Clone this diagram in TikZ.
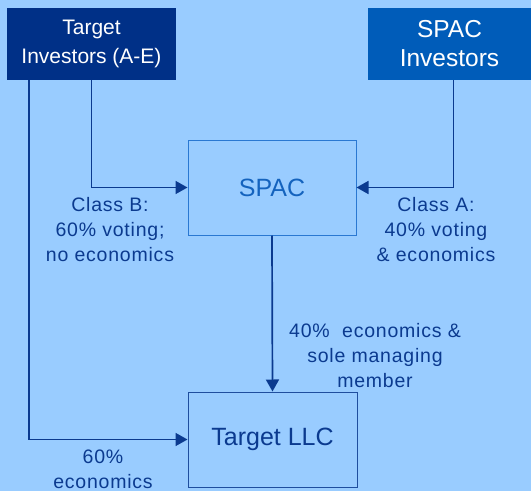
\documentclass[tikz,border=0pt]{standalone}
\usepackage{fontspec}
\setmainfont{Liberation Sans}
\usepackage{tikz}
\usetikzlibrary{arrows.meta,positioning}

\definecolor{bgblue}{HTML}{99CCFF}
\definecolor{navybox}{HTML}{003087}
\definecolor{spacbox}{HTML}{005CB9}
\definecolor{linkblue}{HTML}{0B3A8F}
\definecolor{spacedge}{HTML}{2A78D2}
\definecolor{spactext}{HTML}{1463BE}
\definecolor{llcedge}{HTML}{1F4E9E}

\begin{document}
\begin{tikzpicture}[x=1pt, y=-1pt,
    investor/.style={rectangle, fill=#1, text=white, align=center,
      minimum height=72pt, font=\fontsize{21}{29}\selectfont},
    entity/.style={rectangle, draw=#1, line width=1pt, fill=bgblue,
      minimum width=168pt, minimum height=95pt, font=\fontsize{25}{30}\selectfont},
    note/.style={text=linkblue, align=center,
      font=\fontsize{19.5}{25}\selectfont\addfontfeature{LetterSpace=4}},
    link/.style={draw=linkblue, line width=1.7pt,
      -{Triangle[length=12pt,width=13pt]}}]
  \fill[bgblue] (0,0) rectangle (531,491);

  \node[investor=navybox, minimum width=169pt] (tinv) at (91.5,44) {Target\\Investors (A-E)};
  \node[investor=spacbox, minimum width=163pt, font=\fontsize{24.5}{29}\selectfont] (sinv) at (449.5,44) {SPAC\\Investors};
  \node[entity=spacedge, text=spactext] (spac) at (272,187.5) {SPAC};
  \node[entity=llcedge, text=linkblue, minimum width=169pt] (llc) at (272.5,439.5) {Target LLC};

  % ownership links
  \draw[link] ([xshift=-62.5pt]tinv.south) |- (llc.west);
  \draw[link] (tinv.south) |- (spac.west);
  \draw[link] ([xshift=4pt]sinv.south) |- (spac.east);
  \draw[link] (spac.south) -- (llc.north);

  \node[note] (classb) at (110,230) {Class B:\\60\% voting;\\no economics};
  \node[note] (classa) at (436,230) {Class A:\\40\% voting\\\& economics};
  \node[note] (sole) at (375,356) {40\%\ \ economics \&\\sole managing\\member};
  \node[note] (llcecon) at (103,469) {60\%\\economics};
\end{tikzpicture}
\end{document}
